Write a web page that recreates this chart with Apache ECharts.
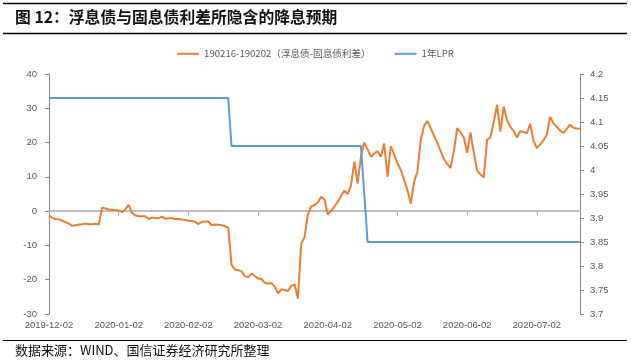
<!DOCTYPE html>
<html><head><meta charset="utf-8">
<script src="https://cdn.jsdelivr.net/npm/echarts@6/dist/echarts.min.js"></script>
<style>html,body{margin:0;padding:0;background:#fff;}#c{width:631px;height:362px;}</style>
</head><body><div id="c"></div>
<script>
var titleText = '图 12：浮息债与固息债利差所隐含的降息预期';
var sourceText = '数据来源：WIND、国信证券经济研究所整理';
var seriesNames = ['190216-190202（浮息债-固息债利差）', '1年LPR'];
var tickLabels = ['2019-12-02','2020-01-02','2020-02-02','2020-03-02','2020-04-02','2020-05-02','2020-06-02','2020-07-02'];
var leftTicks = {min: -30, max: 40, interval: 10};
var rightTicks = {min: 3.7, max: 4.2, interval: 0.05};
var spread = [
-1.2,-2.0,-2.3,-2.4,-2.8,-3.2,-3.6,-4.3,-4.1,-3.9,
-3.8,-3.6,-3.8,-3.8,-3.7,-3.9,1.0,0.8,0.5,0.4,
0.3,0.2,-0.3,0.5,1.8,-0.5,-1.2,-1.5,-1.5,-1.5,
-2.3,-1.9,-2.0,-2.1,-1.6,-2.2,-2.1,-2.1,-2.3,-2.3,
-2.4,-2.6,-2.8,-2.9,-3.1,-3.8,-3.1,-3.0,-3.0,-4.1,
-3.9,-4.0,-4.1,-4.4,-4.8,-15.7,-17.0,-17.2,-17.5,-19.0,
-19.3,-18.2,-18.9,-19.6,-19.8,-20.9,-21.1,-21.0,-22.0,-24.0,
-22.8,-23.0,-23.3,-21.8,-21.4,-25.5,-9.5,-7.5,-1.0,1.4,
1.7,2.5,4.2,3.4,-1.0,0.0,1.3,2.7,4.4,6.0,
5.0,7.5,14.4,8.0,16.0,20.0,18.0,15.8,16.8,17.5,
15.9,19.7,10.0,19.0,16.5,14.0,12.0,9.2,6.0,2.2,
8.5,11.5,20.6,24.8,26.3,24.2,22.0,20.0,17.5,15.2,
13.7,12.6,17.5,24.2,23.0,21.5,17.0,23.0,17.0,11.8,
10.7,9.8,20.8,21.5,26.0,31.0,23.2,30.5,26.5,24.6,
23.4,21.5,23.3,23.1,22.7,25.5,20.5,18.4,19.4,20.7,
22.2,27.5,25.6,24.6,23.5,22.8,24.0,25.2,24.3,24.1,
24.0
];
var lpr = [
4.15,4.15,4.15,4.15,4.15,4.15,4.15,4.15,4.15,4.15,
4.15,4.15,4.15,4.15,4.15,4.15,4.15,4.15,4.15,4.15,
4.15,4.15,4.15,4.15,4.15,4.15,4.15,4.15,4.15,4.15,
4.15,4.15,4.15,4.15,4.15,4.15,4.15,4.15,4.15,4.15,
4.15,4.15,4.15,4.15,4.15,4.15,4.15,4.15,4.15,4.15,
4.15,4.15,4.15,4.15,4.15,4.05,4.05,4.05,4.05,4.05,
4.05,4.05,4.05,4.05,4.05,4.05,4.05,4.05,4.05,4.05,
4.05,4.05,4.05,4.05,4.05,4.05,4.05,4.05,4.05,4.05,
4.05,4.05,4.05,4.05,4.05,4.05,4.05,4.05,4.05,4.05,
4.05,4.05,4.05,4.05,4.05,3.95,3.85,3.85,3.85,3.85,
3.85,3.85,3.85,3.85,3.85,3.85,3.85,3.85,3.85,3.85,
3.85,3.85,3.85,3.85,3.85,3.85,3.85,3.85,3.85,3.85,
3.85,3.85,3.85,3.85,3.85,3.85,3.85,3.85,3.85,3.85,
3.85,3.85,3.85,3.85,3.85,3.85,3.85,3.85,3.85,3.85,
3.85,3.85,3.85,3.85,3.85,3.85,3.85,3.85,3.85,3.85,
3.85,3.85,3.85,3.85,3.85,3.85,3.85,3.85,3.85,3.85,
3.85
];
var labelEvery = 21;
var categories = spread.map(function (_, i) { return String(i); });

var chart = echarts.init(document.getElementById('c'), null, {renderer: 'canvas'});
var labelColor = '#595959';
var axisGray = '#868686';
var font = 'Arial, "Liberation Sans", sans-serif';
chart.setOption({
  animation: false,
  backgroundColor: '#fff',
  textStyle: {fontFamily: font},
  graphic: [
    {type: 'line', shape: {x1: 3, y1: 3.5, x2: 627, y2: 3.5}, style: {stroke: '#000', lineWidth: 1.5}},
    {type: 'text', left: 15, top: 9, style: {text: titleText, fill: '#111', font: 'bold 15.8px "Noto Sans CJK SC", sans-serif'}},
    {type: 'line', shape: {x1: 3, y1: 33.5, x2: 627, y2: 33.5}, style: {stroke: '#000', lineWidth: 1.5}},
    {type: 'line', shape: {x1: 3, y1: 340.5, x2: 627, y2: 340.5}, style: {stroke: '#000', lineWidth: 1.2}},
    {type: 'text', left: 15, top: 344, style: {text: sourceText, fill: '#111', font: '13px "Noto Sans CJK SC", sans-serif'}}
  ],
  legend: {
    top: 44, left: 'center', itemGap: 24, itemWidth: 22, itemHeight: 2, icon: 'rect',
    textStyle: {fontSize: 9.6, color: labelColor, fontFamily: '"Noto Sans CJK SC", sans-serif'},
    data: seriesNames
  },
  grid: {left: 49, right: 51, top: 74, bottom: 48, containLabel: false},
  xAxis: [
    {
      type: 'category', data: categories, boundaryGap: false,
      axisLine: {onZero: true, lineStyle: {color: '#BFBFBF', width: 2}},
      axisTick: {show: true, interval: labelEvery - 1, length: 4, lineStyle: {color: '#A6A6A6', width: 1}},
      axisLabel: {show: false}, splitLine: {show: false}
    },
    {
      type: 'category', data: categories, boundaryGap: false, position: 'bottom',
      axisLine: {show: false, onZero: false}, axisTick: {show: false}, splitLine: {show: false},
      axisLabel: {
        show: true, interval: labelEvery - 1, margin: 6, fontSize: 9.5, color: labelColor,
        formatter: function (v, i) { return tickLabels[i / labelEvery] || ''; }
      }
    }
  ],
  yAxis: [
    {
      type: 'value', position: 'left', min: leftTicks.min, max: leftTicks.max, interval: leftTicks.interval,
      axisLine: {show: true, lineStyle: {color: axisGray, width: 1}},
      axisTick: {show: true, length: 4, lineStyle: {color: axisGray}},
      axisLabel: {fontSize: 9.5, color: labelColor, margin: 12},
      splitLine: {show: false}
    },
    {
      type: 'value', position: 'right', min: rightTicks.min, max: rightTicks.max, interval: rightTicks.interval,
      axisLine: {show: true, lineStyle: {color: axisGray, width: 1}},
      axisTick: {show: true, length: 4, lineStyle: {color: axisGray}},
      axisLabel: {fontSize: 9.5, color: labelColor, margin: 10, formatter: function (v) { return String(+v.toFixed(2)); }},
      splitLine: {show: false}
    }
  ],
  series: [
    {name: seriesNames[0], type: 'line', xAxisIndex: 0, yAxisIndex: 0, data: spread, symbol: 'none',
      lineStyle: {color: '#ED7D31', width: 2}, itemStyle: {color: '#ED7D31'}},
    {name: seriesNames[1], type: 'line', xAxisIndex: 0, yAxisIndex: 1, data: lpr, symbol: 'none',
      lineStyle: {color: '#5B9BD5', width: 2}, itemStyle: {color: '#5B9BD5'}}
  ]
});
</script></body></html>
